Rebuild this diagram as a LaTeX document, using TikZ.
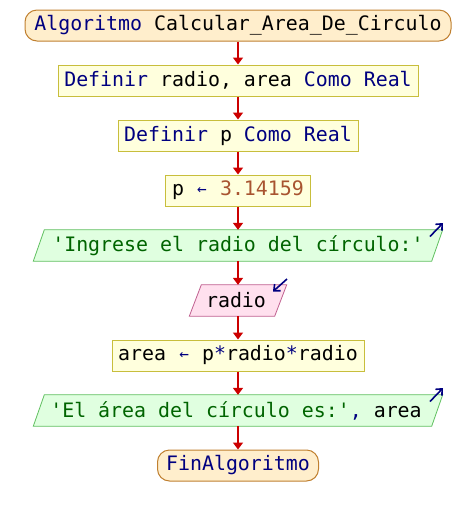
\documentclass[tikz,border=0pt]{standalone}
\usepackage{fontspec}
\setmonofont{DejaVu Sans Mono}
\usetikzlibrary{calc,arrows.meta}

% colours of the flowchart
\definecolor{kw}{RGB}{0,0,128}
\definecolor{str}{RGB}{0,100,0}
\definecolor{num}{RGB}{168,84,48}
\definecolor{flow}{RGB}{204,0,0}
\definecolor{termfill}{RGB}{255,238,204}
\definecolor{termdraw}{RGB}{192,128,48}
\definecolor{procfill}{RGB}{255,255,221}
\definecolor{procdraw}{RGB}{200,190,60}
\definecolor{outfill}{RGB}{224,255,224}
\definecolor{outdraw}{RGB}{96,192,96}
\definecolor{infill}{RGB}{255,224,238}
\definecolor{indraw}{RGB}{192,96,144}

\newcommand{\kwd}[1]{\textcolor{kw}{#1}}
\newcommand{\strg}[1]{\textcolor{str}{#1}}
\newcommand{\asgn}{\makebox[12pt]{\raisebox{1.5pt}{\kwd{\fontsize{16pt}{16pt}\selectfont ←}}}}

\tikzset{
  every node/.style={font=\ttfamily\fontsize{19.9pt}{22pt}\selectfont, inner sep=0pt, minimum height=31pt},
  terminal/.style={draw=termdraw, fill=termfill, line width=1pt, rounded corners=12pt},
  process/.style={draw=procdraw, fill=procfill, line width=1pt},
  iobox/.style={},
  flowarrow/.style={draw=flow, line width=2pt, -{Triangle[length=7pt,width=10pt]}},
  ioicon/.style={draw=kw, line width=1.6pt, -{Straight Barb[length=5pt,width=9pt]}},
  outshape/.style={draw=outdraw, fill=outfill, line width=0.8pt},
  inshape/.style={draw=indraw, fill=infill, line width=0.8pt}
}

\begin{document}
\begin{tikzpicture}[x=1pt,y=1pt]
\useasboundingbox (0,0) rectangle (476,-515);

% process and terminal boxes
\node[terminal, minimum width=426pt] (start) at (238,-25.5)
  {\kwd{Algoritmo} Calcular\_Area\_De\_Circulo};
\node[process, minimum width=360pt] (def1) at (238,-80.5)
  {\kwd{Definir} radio, area \kwd{Como Real}};
\node[process, minimum width=240pt] (def2) at (238,-135.5)
  {\kwd{Definir} p \kwd{Como Real}};
\node[process, minimum width=145pt] (asig1) at (238,-190.5)
  {p \asgn{} \textcolor{num}{3.14159}};

% input / output nodes (their slanted outlines are drawn below)
\node[iobox, minimum width=409pt] (out1) at (238,-245.5) {};
\node[iobox, minimum width=97pt] (in1) at (238,-300.5) {};
\node[process, minimum width=252pt] (asig2) at (238,-355.5)
  {area \asgn{} p\kwd{*}radio\kwd{*}radio};
\node[iobox, minimum width=409pt] (out2) at (238,-410.5) {};
\node[terminal, minimum width=161pt] (fin) at (238,-465.5)
  {\kwd{FinAlgoritmo}};

% slanted outlines
\draw[outshape] (out1.south west) -- ($(out1.north west)+(11,0)$)
  -- (out1.north east) -- ($(out1.south east)+(-11,0)$) -- cycle;
\draw[inshape] (in1.south west) -- ($(in1.north west)+(12,0)$)
  -- (in1.north east) -- ($(in1.south east)+(-12,0)$) -- cycle;
\draw[outshape] (out2.south west) -- ($(out2.north west)+(11,0)$)
  -- (out2.north east) -- ($(out2.south east)+(-11,0)$) -- cycle;

% texts of the slanted nodes
\node[minimum height=0pt] (out1txt) at (out1) {\strg{'Ingrese el radio del círculo:'}};
\node[minimum height=0pt] (in1txt) at ($(in1)+(-2,0)$) {radio};
\node[minimum height=0pt] (out2txt) at ($(out2)+(-2,0)$) {\strg{'El área del círculo es:'}\kwd{,} area};

% read / write marks
\coordinate (o1a) at (430,-236.5);
\coordinate (o1b) at (443,-223);
\draw[ioicon] (o1a) -- (o1b);
\coordinate (i1a) at (287,-279);
\coordinate (i1b) at (273,-291.5);
\draw[ioicon] (i1a) -- (i1b);
\coordinate (o2a) at (430,-401.5);
\coordinate (o2b) at (443,-388);
\draw[ioicon] (o2a) -- (o2b);

% flow connectors
\draw[flowarrow] (start) -- (def1);
\draw[flowarrow] (def1) -- (def2);
\draw[flowarrow] (def2) -- (asig1);
\draw[flowarrow] (asig1) -- (out1);
\draw[flowarrow] (out1) -- (in1);
\draw[flowarrow] (in1) -- (asig2);
\draw[flowarrow] (asig2) -- (out2);
\draw[flowarrow] (out2) -- (fin);
\end{tikzpicture}
\end{document}
